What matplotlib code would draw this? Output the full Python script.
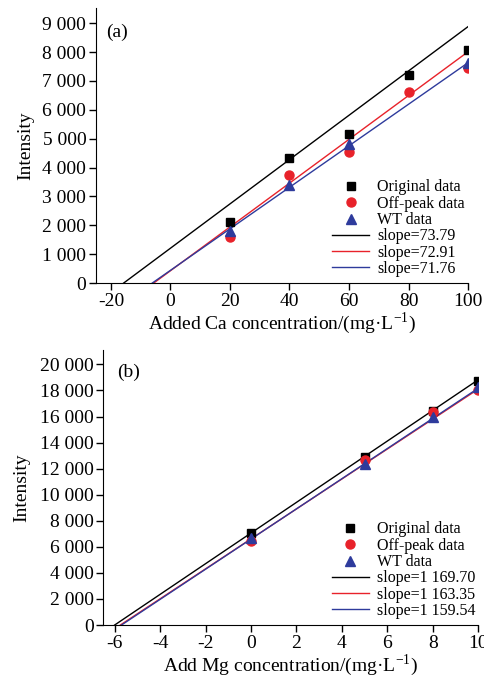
import matplotlib
matplotlib.use('Agg')
from matplotlib import pyplot as plt
from matplotlib.ticker import FuncFormatter
import numpy as np

plt.rcParams['font.family'] = ['Liberation Serif', 'DejaVu Serif']
plt.rcParams['mathtext.fontset'] = 'stix'
plt.rcParams['axes.unicode_minus'] = False

# (a) Ca
ca_x = [20, 40, 60, 80, 100]
ca_orig = [2130, 4325, 5155, 7210, 8070]
ca_off = [1610, 3745, 4555, 6610, 7460]
ca_wt = [1785, 3400, 4820, np.nan, 7630]
# fitted lines: x-intercept and value at x=100
ca_fit_x0 = [-15.7, -5.6, -6.1]
ca_fit_yend = [8880, 8010, 7630]
ca_slopes = ['slope=73.79', 'slope=72.91', 'slope=71.76']

# (b) Mg
mg_x = [0, 5, 8, 10]
mg_orig = [7040, 12890, 16390, 18760]
mg_off = [6480, 12660, 16320, 18020]
mg_wt = [6660, 12380, 15940, 18250]
mg_fit_x0 = [-6.0, -5.75, -5.7]
mg_fit_yend = [18820, 18100, 18170]
mg_slopes = ['slope=1 169.70', 'slope=1 163.35', 'slope=1 159.54']

series_labels = ['Original data', 'Off-peak data', 'WT data']
c_black = '#000000'
c_red = '#e8222a'
c_blue = '#2e3b9c'
line_colors = [c_black, c_red, c_blue]

fmt = FuncFormatter(lambda v, p: f'{v:,.0f}'.replace(',', ' '))


def panel(ax, x, orig, off, wt, x0s, yends, slopes, xmax, tag, tag_xy, ypad):
    lines = []
    for x0, ye, col, lab in zip(x0s, yends, line_colors, slopes):
        l, = ax.plot([x0, xmax], [0, ye], color=col, lw=1.0, label=lab, zorder=2)
        lines.append(l)
    h1, = ax.plot(x, orig, ls='none', marker='s', ms=5.5, color=c_black, label=series_labels[0], zorder=3)
    h2, = ax.plot(x, off, ls='none', marker='o', ms=6.5, color=c_red, label=series_labels[1], zorder=3)
    h3, = ax.plot(x, wt, ls='none', marker='^', ms=7, color=c_blue, label=series_labels[2], zorder=3)
    handles = [h1, h2, h3] + lines
    ax.legend(handles=handles, loc='lower right', bbox_to_anchor=(1.0, 0.01),
              frameon=False, fontsize=11.5, labelspacing=0.02, handlelength=2.3,
              handletextpad=0.5, borderaxespad=0.0, borderpad=0.2)
    ax.spines['top'].set_visible(False)
    ax.spines['right'].set_visible(False)
    ax.yaxis.set_major_formatter(fmt)
    ax.tick_params(direction='out', length=5, width=1, labelsize=14, pad=2)
    ax.text(tag_xy[0], tag_xy[1], tag, fontsize=14, ha='left', va='center')
    ax.set_ylabel('Intensity', fontsize=14, labelpad=ypad)


fig = plt.figure(figsize=(4.85, 6.81), dpi=100)
ax1 = fig.add_axes([0.198, 0.5844, 0.767, 0.4036])
ax2 = fig.add_axes([0.213, 0.0822, 0.773, 0.4038])

panel(ax1, ca_x, ca_orig, ca_off, ca_wt, ca_fit_x0, ca_fit_yend, ca_slopes, 100, '(a)', (-21.5, 8700), 6)
ax1.set_xlim(-25, 100)
ax1.set_ylim(0, 9520)
ax1.set_xticks([-20, 0, 20, 40, 60, 80, 100])
ax1.set_yticks(np.arange(0, 9001, 1000))
ax1.set_xlabel(r'Added Ca concentration/(mg·L$^{\mathregular{-1}}$)', fontsize=14, labelpad=1)

panel(ax2, mg_x, mg_orig, mg_off, mg_wt, mg_fit_x0, mg_fit_yend, mg_slopes, 10, '(b)', (-5.9, 19400), 7)
ax2.set_xlim(-6.5, 10)
ax2.set_ylim(0, 21100)
ax2.set_xticks(np.arange(-6, 11, 2))
ax2.set_yticks(np.arange(0, 20001, 2000))
ax2.set_xlabel(r'Add Mg concentration/(mg·L$^{\mathregular{-1}}$)', fontsize=14, labelpad=1)

fig.savefig('out.png', dpi=100)
